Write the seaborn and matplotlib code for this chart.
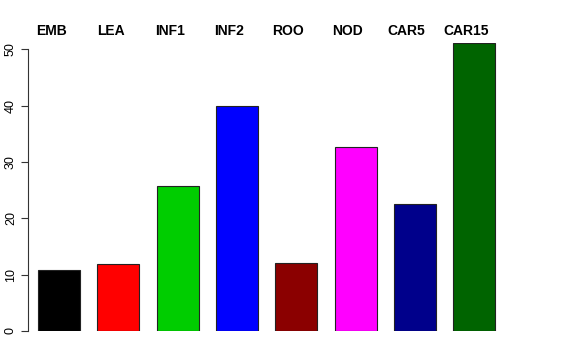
import matplotlib
matplotlib.use("Agg")
import matplotlib.pyplot as plt
import seaborn as sns

categories = ["EMB", "LEA", "INF1", "INF2", "ROO", "NOD", "CAR5", "CAR15"]
values = [10.8, 11.9, 25.7, 39.9, 12.1, 32.6, 22.5, 51.1]
colors = ["#000000", "#FF0000", "#00CD00", "#0000FF", "#8B0000", "#FF00FF", "#00008B", "#006400"]
yticks = [0, 10, 20, 30, 40, 50]

sns.set_theme(style="white")
plt.rcParams["font.family"] = ["Liberation Sans", "DejaVu Sans"]
plt.rcParams["text.color"] = "black"
plt.rcParams["xtick.color"] = "black"
plt.rcParams["ytick.color"] = "black"

W, H = 576, 360
fig = plt.figure(figsize=(W / 100, H / 100), dpi=100)
ax = fig.add_axes([28 / W, (H - 331) / H, (540 - 28) / W, (331 - 43) / H])

sns.barplot(x=categories, y=values, hue=categories, palette=colors, width=0.708,
            edgecolor="#222222", linewidth=0.8, legend=False, ax=ax, saturation=1)

ax.set_xlim(-0.523, 8.11)
ax.set_ylim(0, max(values))
for s in ["top", "right", "bottom"]:
    ax.spines[s].set_visible(False)
ax.spines["left"].set_bounds(0, 50)
ax.spines["left"].set_color("#333333")
ax.spines["left"].set_linewidth(0.8)
ax.set_yticks(yticks)
ax.set_yticklabels([str(t) for t in yticks], rotation=90, va="center", fontsize=9)
ax.tick_params(axis="y", direction="out", length=5, width=0.8, color="#333333", pad=3, left=True)
ax.set_xticks([])
ax.set_xlabel("")
ax.set_ylabel("")

# top labels on their own scale (R mtext-style positions)
top = ax.twiny()
top.set_xlim(-0.406, 8.257)
top.set_xticks(range(len(categories)))
top.set_xticklabels(categories, fontweight="bold", fontsize=10)
top.tick_params(axis="x", length=0, pad=3.5)
for s in top.spines.values():
    s.set_visible(False)

fig.savefig("out.png", dpi=100, facecolor="white")
